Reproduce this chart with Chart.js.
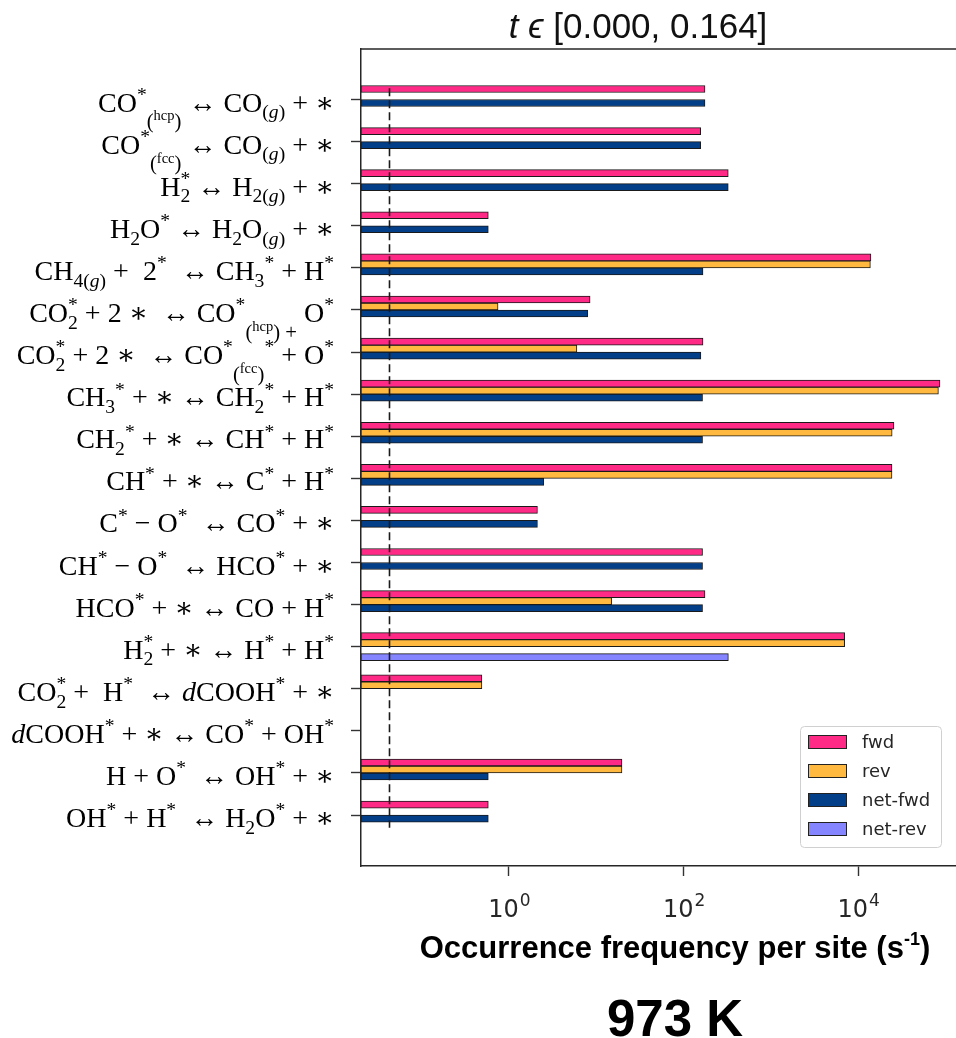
<!DOCTYPE html>
<html>
<head>
<meta charset="utf-8">
<script src="https://cdn.jsdelivr.net/npm/chart.js@4.4.1/dist/chart.umd.min.js"></script>
<style>
  html, body { margin: 0; padding: 0; background: #fff; overflow: hidden; }
  #wrap { width: 956px; height: 1038px; position: relative; }
  canvas { display: block; }
</style>
</head>
<body>
<div id="wrap"><canvas id="c" width="956" height="1038"></canvas></div>
<script>
// Elementary steps, top to bottom.
// Markup: _ subscript, __ lowered subscript, ^ superscript, {..} group,
// $..$ italic, | stops a following script from stacking on the previous one.
const reactions = [
  'CO^*|__{(^{hcp})} ↔ CO_{($g$)} + ∗',
  'CO^*|__{(^{fcc})} ↔ CO_{($g$)} + ∗',
  'H_2^* ↔ H_{2($g$)} + ∗',
  'H_2O^* ↔ H_2O_{($g$)} + ∗',
  'CH_{4($g$)} +  2^*  ↔ CH_3|^* + H^*',
  'CO_2^* + 2 ∗  ↔ CO^*|__{(^{hcp}) +} O^*',
  'CO_2^* + 2 ∗  ↔ CO^*|__{(^{fcc})}|^* + O^*',
  'CH_3|^* + ∗ ↔ CH_2|^* + H^*',
  'CH_2|^* + ∗ ↔ CH^* + H^*',
  'CH^* + ∗ ↔ C^* + H^*',
  'C^* − O^*  ↔ CO^* + ∗',
  'CH^* − O^*  ↔ HCO^* + ∗',
  'HCO^* + ∗ ↔ CO + H^*',
  'H_2^* + ∗ ↔ H^* + H^*',
  'CO_2^* +  H^*  ↔ $d$COOH^* + ∗',
  '$d$COOH^* + ∗ ↔ CO^* + OH^*',
  'H + O^*  ↔ OH^* + ∗',
  'OH^* + H^*  ↔ H_2O^* + ∗'
];

// Occurrence frequency per site (1/s); null = no event in the window
const fwd    = [176, 157, 325, 0.58, 14000, 8.5, 167, 86500, 25700, 24400, 2.12, 165, 176, 7000, 0.49, null, 19.7, 0.58];
const rev    = [null, null, null, null, 13800, 0.75, 6.0, 83000, 24500, 24400, null, null, 15, 7000, 0.49, null, 19.7, null];
const netFwd = [176, 157, 325, 0.58, 167, 8.0, 158, 165, 165, 2.5, 2.12, 165, 165, null, null, null, 0.58, 0.58];
const netRev = [null, null, null, null, null, null, null, null, null, null, null, null, null, 326, null, null, null, null];

const seriesNames = ['fwd', 'rev', 'net-fwd', 'net-rev'];
const seriesColors = ['#ff2a86', '#ffb940', '#023f88', '#8585ff'];

const xTickValues = [1, 100, 10000];
const xTickExponents = ['0', '2', '4'];
const xRange = [0.0202, 132000];
const thresholdRate = 0.042;

const titleText = ['t ϵ', ' [0.000, 0.164]'];
const axisTitle = ['Occurrence frequency per site (s', '-1', ')'];
const temperatureText = '973 K';

const SERIF = '"Liberation Serif", "DejaVu Serif", serif';
const SANS = '"Liberation Sans", Arial, sans-serif';
const DJV = '"DejaVu Sans", sans-serif';

function parseRich(src) {
  let i = 0;
  function group(scale, dy, ital) {
    const out = [];
    let buf = '';
    let lastScript = false;
    const flush = () => {
      if (buf) { out.push({ t: buf, s: scale, dy: dy, it: ital }); buf = ''; lastScript = false; }
    };
    while (i < src.length) {
      const c = src[i];
      if (c === '}') { i++; break; }
      if (c === '|') { flush(); lastScript = false; i++; continue; }
      if (c === '$') { flush(); ital = !ital; i++; continue; }
      if (c === '_' || c === '^') {
        flush();
        i++;
        let shift = c === '_' ? 0.24 : -0.38;
        let s2 = scale * 0.7;
        if (c === '_' && src[i] === '_') { shift = 0.6; s2 = scale * 0.74; i++; }
        const dy2 = dy + shift * scale;
        let inner;
        if (src[i] === '{') { i++; inner = group(s2, dy2, ital); }
        else { inner = [{ t: src[i], s: s2, dy: dy2, it: ital }]; i++; }
        out.push({ script: inner, stack: lastScript });
        lastScript = true;
        continue;
      }
      buf += c; lastScript = false; i++;
    }
    flush();
    return out;
  }
  return group(1, 0, false);
}

function layoutRich(ctx, items, size, draw, x, y) {
  let sx = x, scriptStart = x;
  for (const it of items) {
    if (it.script) {
      const startX = it.stack ? scriptStart : sx;
      const endX = layoutRich(ctx, it.script, size, draw, startX, y);
      if (it.stack) { sx = Math.max(sx, endX); }
      else { scriptStart = startX; sx = endX; }
    } else {
      ctx.font = (it.it ? 'italic ' : '') + (size * it.s).toFixed(2) + 'px ' + SERIF;
      if (draw) ctx.fillText(it.t, sx, y + it.dy * size);
      sx += ctx.measureText(it.t).width;
    }
  }
  return sx;
}

const parsedLabels = reactions.map(parseRich);

const decor = {
  id: 'decor',
  afterDatasetsDraw(chart) {
    const ctx = chart.ctx;
    const a = chart.chartArea;
    const xs = chart.scales.x, ys = chart.scales.y;
    ctx.save();

    // top frame line
    ctx.strokeStyle = '#262626';
    ctx.lineWidth = 1.5;
    ctx.beginPath();
    ctx.moveTo(a.left - 0.75, a.top);
    ctx.lineTo(a.right + 2, a.top);
    ctx.stroke();

    // detection threshold
    const tx = Math.round(xs.getPixelForValue(thresholdRate)) + 0.5;
    ctx.strokeStyle = '#1a1a1a';
    ctx.lineWidth = 1.6;
    ctx.setLineDash([8, 4]);
    ctx.beginPath();
    ctx.moveTo(tx, ys.getPixelForValue(-0.27));
    ctx.lineTo(tx, ys.getPixelForValue(17.3));
    ctx.stroke();
    ctx.setLineDash([]);

    // reaction labels
    ctx.fillStyle = '#000';
    ctx.textBaseline = 'alphabetic';
    ctx.textAlign = 'left';
    const labelSize = 28;
    const rightEdge = a.left - 27;
    parsedLabels.forEach((items, i) => {
      const w = layoutRich(ctx, items, labelSize, false, 0, 0);
      const y = ys.getPixelForValue(i) + 12;
      layoutRich(ctx, items, labelSize, true, rightEdge - w, y);
    });

    // x tick labels 10^n
    ctx.fillStyle = '#262626';
    xTickValues.forEach((v, k) => {
      const px = xs.getPixelForValue(v);
      ctx.font = '24px ' + DJV;
      const wb = ctx.measureText('10').width;
      ctx.font = '17px ' + DJV;
      const we = ctx.measureText(xTickExponents[k]).width;
      const x0 = px - (wb + we) / 2;
      ctx.font = '24px ' + DJV;
      ctx.fillText('10', x0, 917);
      ctx.font = '17px ' + DJV;
      ctx.fillText(xTickExponents[k], x0 + wb + 1, 906);
    });

    // axis title
    ctx.fillStyle = '#000';
    const fMain = 'bold 31px ' + SANS, fSup = 'bold 18px ' + SANS;
    ctx.font = fMain; const w1 = ctx.measureText(axisTitle[0]).width;
    ctx.font = fSup;  const w2 = ctx.measureText(axisTitle[1]).width;
    ctx.font = fMain; const w3 = ctx.measureText(axisTitle[2]).width;
    let ax = 675 - (w1 + w2 + w3) / 2;
    ctx.font = fMain; ctx.fillText(axisTitle[0], ax, 958); ax += w1;
    ctx.font = fSup;  ctx.fillText(axisTitle[1], ax, 945); ax += w2;
    ctx.font = fMain; ctx.fillText(axisTitle[2], ax, 958);

    // temperature caption
    ctx.font = 'bold 51px ' + SANS;
    ctx.textAlign = 'center';
    ctx.fillText(temperatureText, 675, 1036);

    // title
    ctx.textAlign = 'left';
    ctx.fillStyle = '#111';
    const fIt = 'italic 35px ' + SANS, fRg = '35px ' + SANS;
    ctx.font = fIt; const t1 = ctx.measureText(titleText[0]).width;
    ctx.font = fRg; const t2 = ctx.measureText(titleText[1]).width;
    const tx0 = 638 - (t1 + t2) / 2;
    ctx.font = fIt; ctx.fillText(titleText[0], tx0, 38);
    ctx.font = fRg; ctx.fillText(titleText[1], tx0 + t1, 38);

    // legend
    const lg = { x: a.right - 156, y: a.bottom - 140, w: 141, h: 121 };
    ctx.fillStyle = 'rgba(255,255,255,0.85)';
    ctx.strokeStyle = '#d0d0d0';
    ctx.lineWidth = 1;
    ctx.beginPath();
    ctx.roundRect(lg.x + 0.5, lg.y + 0.5, lg.w, lg.h, 4);
    ctx.fill();
    ctx.stroke();
    ctx.font = '18px ' + DJV;
    ctx.textBaseline = 'middle';
    chart.data.datasets.forEach((ds, k) => {
      const cy = lg.y + 16 + k * 29;
      ctx.fillStyle = ds.backgroundColor;
      ctx.fillRect(lg.x + 8, cy - 7, 39, 14);
      ctx.strokeStyle = '#222';
      ctx.lineWidth = 1;
      ctx.strokeRect(lg.x + 8.5, cy - 6.5, 38, 13);
      ctx.fillStyle = '#262626';
      ctx.fillText(ds.label, lg.x + 62, cy + 1);
    });
    ctx.restore();
  }
};

const tickGrid = {
  display: true, drawOnChartArea: false, drawTicks: true, offset: false,
  tickLength: 10, tickColor: '#333', tickWidth: 1.4
};
const axisBorder = { display: true, color: '#262626', width: 1.5 };

new Chart(document.getElementById('c'), {
  type: 'bar',
  data: {
    labels: reactions.map((_, i) => i),
    datasets: [fwd, rev, netFwd, netRev].map((d, k) => ({
      label: seriesNames[k],
      data: d,
      backgroundColor: seriesColors[k]
    }))
  },
  options: {
    indexAxis: 'y',
    responsive: false,
    animation: false,
    devicePixelRatio: 1,
    layout: { padding: { top: 49, left: 0, right: 0, bottom: 0 } },
    datasets: {
      bar: { barThickness: 7, borderWidth: 1, borderColor: '#1a1a1a', borderSkipped: false, grouped: true }
    },
    plugins: { legend: { display: false }, tooltip: { enabled: false }, title: { display: false } },
    scales: {
      x: {
        type: 'logarithmic', min: xRange[0], max: xRange[1], bounds: 'data', position: 'bottom', offset: false,
        afterBuildTicks: s => { s.ticks = xTickValues.map(v => ({ value: v })); },
        afterFit: s => { s.height = 172; },
        ticks: { display: false },
        grid: tickGrid, border: axisBorder
      },
      y: {
        type: 'linear', reverse: true, min: -1.2, max: 18.21, bounds: 'data', position: 'left', offset: false,
        afterBuildTicks: s => { s.ticks = reactions.map((_, i) => ({ value: i })); },
        afterFit: s => { s.width = 361; },
        ticks: { display: false },
        grid: tickGrid, border: axisBorder
      }
    }
  },
  plugins: [decor]
});
</script>
</body>
</html>
